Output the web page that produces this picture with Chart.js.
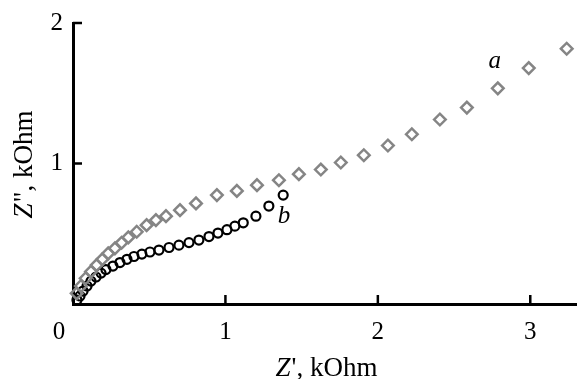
<!DOCTYPE html>
<html>
<head>
<meta charset="utf-8">
<script src="https://cdn.jsdelivr.net/npm/chart.js@4/dist/chart.umd.min.js"></script>
<style>
  body { margin: 0; background: #fff; }
  #wrap { width: 578px; height: 379px; }
</style>
</head>
<body>
<div id="wrap"><canvas id="nyquist" width="578" height="379"></canvas></div>
<script>
// Z' (kOhm) and Z'' (kOhm)
const A_RE = [0.024, 0.052, 0.083, 0.118, 0.155, 0.192, 0.231, 0.275, 0.319, 0.363, 0.418, 0.483, 0.544, 0.610, 0.702, 0.807, 0.944, 1.075, 1.207, 1.351, 1.482, 1.626, 1.757, 1.908, 2.066, 2.223, 2.407, 2.584, 2.787, 2.990, 3.239];
const A_IM = [0.076, 0.128, 0.183, 0.230, 0.277, 0.318, 0.360, 0.396, 0.436, 0.474, 0.514, 0.561, 0.597, 0.625, 0.668, 0.716, 0.775, 0.805, 0.846, 0.881, 0.924, 0.957, 1.007, 1.059, 1.128, 1.208, 1.313, 1.398, 1.535, 1.679, 1.817];
const B_RE = [0.026, 0.046, 0.066, 0.092, 0.118, 0.151, 0.184, 0.216, 0.262, 0.308, 0.354, 0.400, 0.452, 0.505, 0.564, 0.630, 0.695, 0.761, 0.826, 0.892, 0.951, 1.010, 1.062, 1.117, 1.200, 1.285, 1.379];
const B_IM = [0.028, 0.057, 0.092, 0.128, 0.163, 0.192, 0.220, 0.245, 0.270, 0.295, 0.318, 0.338, 0.355, 0.370, 0.384, 0.402, 0.419, 0.437, 0.455, 0.480, 0.505, 0.529, 0.554, 0.578, 0.625, 0.697, 0.775];

const X_TICKS = [0, 1, 2, 3];
const Y_TICKS = [0, 1, 2];
const SERIES_LABELS = [{ text: 'a', x: 2.767, y: 1.724 }, { text: 'b', x: 1.384, y: 0.625 }];

const FONT = 'Liberation Serif';
const TICK_SIZE = 25;
const TITLE_SIZE = 27;

const toPoints = (xs, ys) => xs.map((x, i) => ({ x: x, y: ys[i] }));

// inside tick marks, shared "0", axis titles with italic Z, series letters
const decorPlugin = {
  id: 'decor',
  afterDraw(chart) {
    const ctx = chart.ctx;
    const xs = chart.scales.x, ys = chart.scales.y;
    const area = chart.chartArea;
    ctx.save();
    ctx.strokeStyle = '#000';
    ctx.lineWidth = 2.5;
    X_TICKS.filter(v => v > 0).forEach(v => {
      const px = xs.getPixelForValue(v);
      ctx.beginPath(); ctx.moveTo(px, area.bottom); ctx.lineTo(px, area.bottom - 9); ctx.stroke();
    });
    Y_TICKS.filter(v => v > 0).forEach(v => {
      const py = ys.getPixelForValue(v);
      ctx.beginPath(); ctx.moveTo(area.left, py); ctx.lineTo(area.left + 9, py); ctx.stroke();
    });

    ctx.fillStyle = '#000';
    ctx.textBaseline = 'middle';
    ctx.textAlign = 'center';
    ctx.font = `${TICK_SIZE}px "${FONT}"`;
    ctx.fillText('0', area.left - 14, area.bottom + 28);

    // series letters
    ctx.font = `italic ${TICK_SIZE}px "${FONT}"`;
    SERIES_LABELS.forEach(l => ctx.fillText(l.text, xs.getPixelForValue(l.x), ys.getPixelForValue(l.y)));

    // axis titles
    const drawTitle = (rest, cx, cy, rot) => {
      ctx.save();
      ctx.translate(cx, cy);
      ctx.rotate(rot);
      ctx.textAlign = 'left';
      ctx.textBaseline = 'alphabetic';
      ctx.font = `italic ${TITLE_SIZE}px "${FONT}"`;
      const wz = ctx.measureText('Z').width;
      ctx.font = `${TITLE_SIZE}px "${FONT}"`;
      const wr = ctx.measureText(rest).width;
      const x0 = -(wz + wr) / 2;
      ctx.font = `italic ${TITLE_SIZE}px "${FONT}"`;
      ctx.fillText('Z', x0, 0);
      ctx.font = `${TITLE_SIZE}px "${FONT}"`;
      ctx.fillText(rest, x0 + wz + 1, 0);
      ctx.restore();
    };
    drawTitle("', kOhm", 326, 376, 0);
    drawTitle('", kOhm', 32, 165, -Math.PI / 2);
    ctx.restore();
  }
};

new Chart(document.getElementById('nyquist'), {
  type: 'scatter',
  data: {
    datasets: [
      {
        label: 'a',
        data: toPoints(A_RE, A_IM),
        pointStyle: 'rectRot',
        pointRadius: 5.8,
        pointBorderWidth: 2.5,
        borderColor: '#858585',
        backgroundColor: 'rgba(0,0,0,0)',
        clip: false
      },
      {
        label: 'b',
        data: toPoints(B_RE, B_IM),
        pointStyle: 'circle',
        pointRadius: 4.5,
        pointBorderWidth: 2.2,
        borderColor: '#000',
        backgroundColor: 'rgba(0,0,0,0)',
        clip: false
      }
    ]
  },
  options: {
    responsive: false,
    animation: false,
    layout: { autoPadding: false, padding: { top: 23, right: 2, left: 0, bottom: 0 } },
    plugins: { legend: { display: false }, tooltip: { enabled: false } },
    scales: {
      x: {
        type: 'linear',
        min: 0,
        max: 3.3,
        afterBuildTicks: s => { s.ticks = X_TICKS.map(v => ({ value: v })); },
        afterFit: s => { s.height = 75; s.paddingLeft = 0; s.paddingRight = 0; },
        grid: { display: false, drawTicks: false },
        border: { color: '#000', width: 3 },
        ticks: {
          padding: 13,
          color: '#000',
          font: { family: FONT, size: TICK_SIZE },
          callback: v => (v === 0 ? '' : v)
        }
      },
      y: {
        type: 'linear',
        min: 0,
        max: 2,
        afterBuildTicks: s => { s.ticks = Y_TICKS.map(v => ({ value: v })); },
        afterFit: s => { s.width = 73; s.paddingTop = 0; s.paddingBottom = 0; },
        grid: { display: false, drawTicks: false },
        border: { color: '#000', width: 3 },
        ticks: {
          padding: 10,
          color: '#000',
          font: { family: FONT, size: TICK_SIZE },
          callback: v => (v === 0 ? '' : v)
        }
      }
    }
  },
  plugins: [decorPlugin]
});
</script>
</body>
</html>
